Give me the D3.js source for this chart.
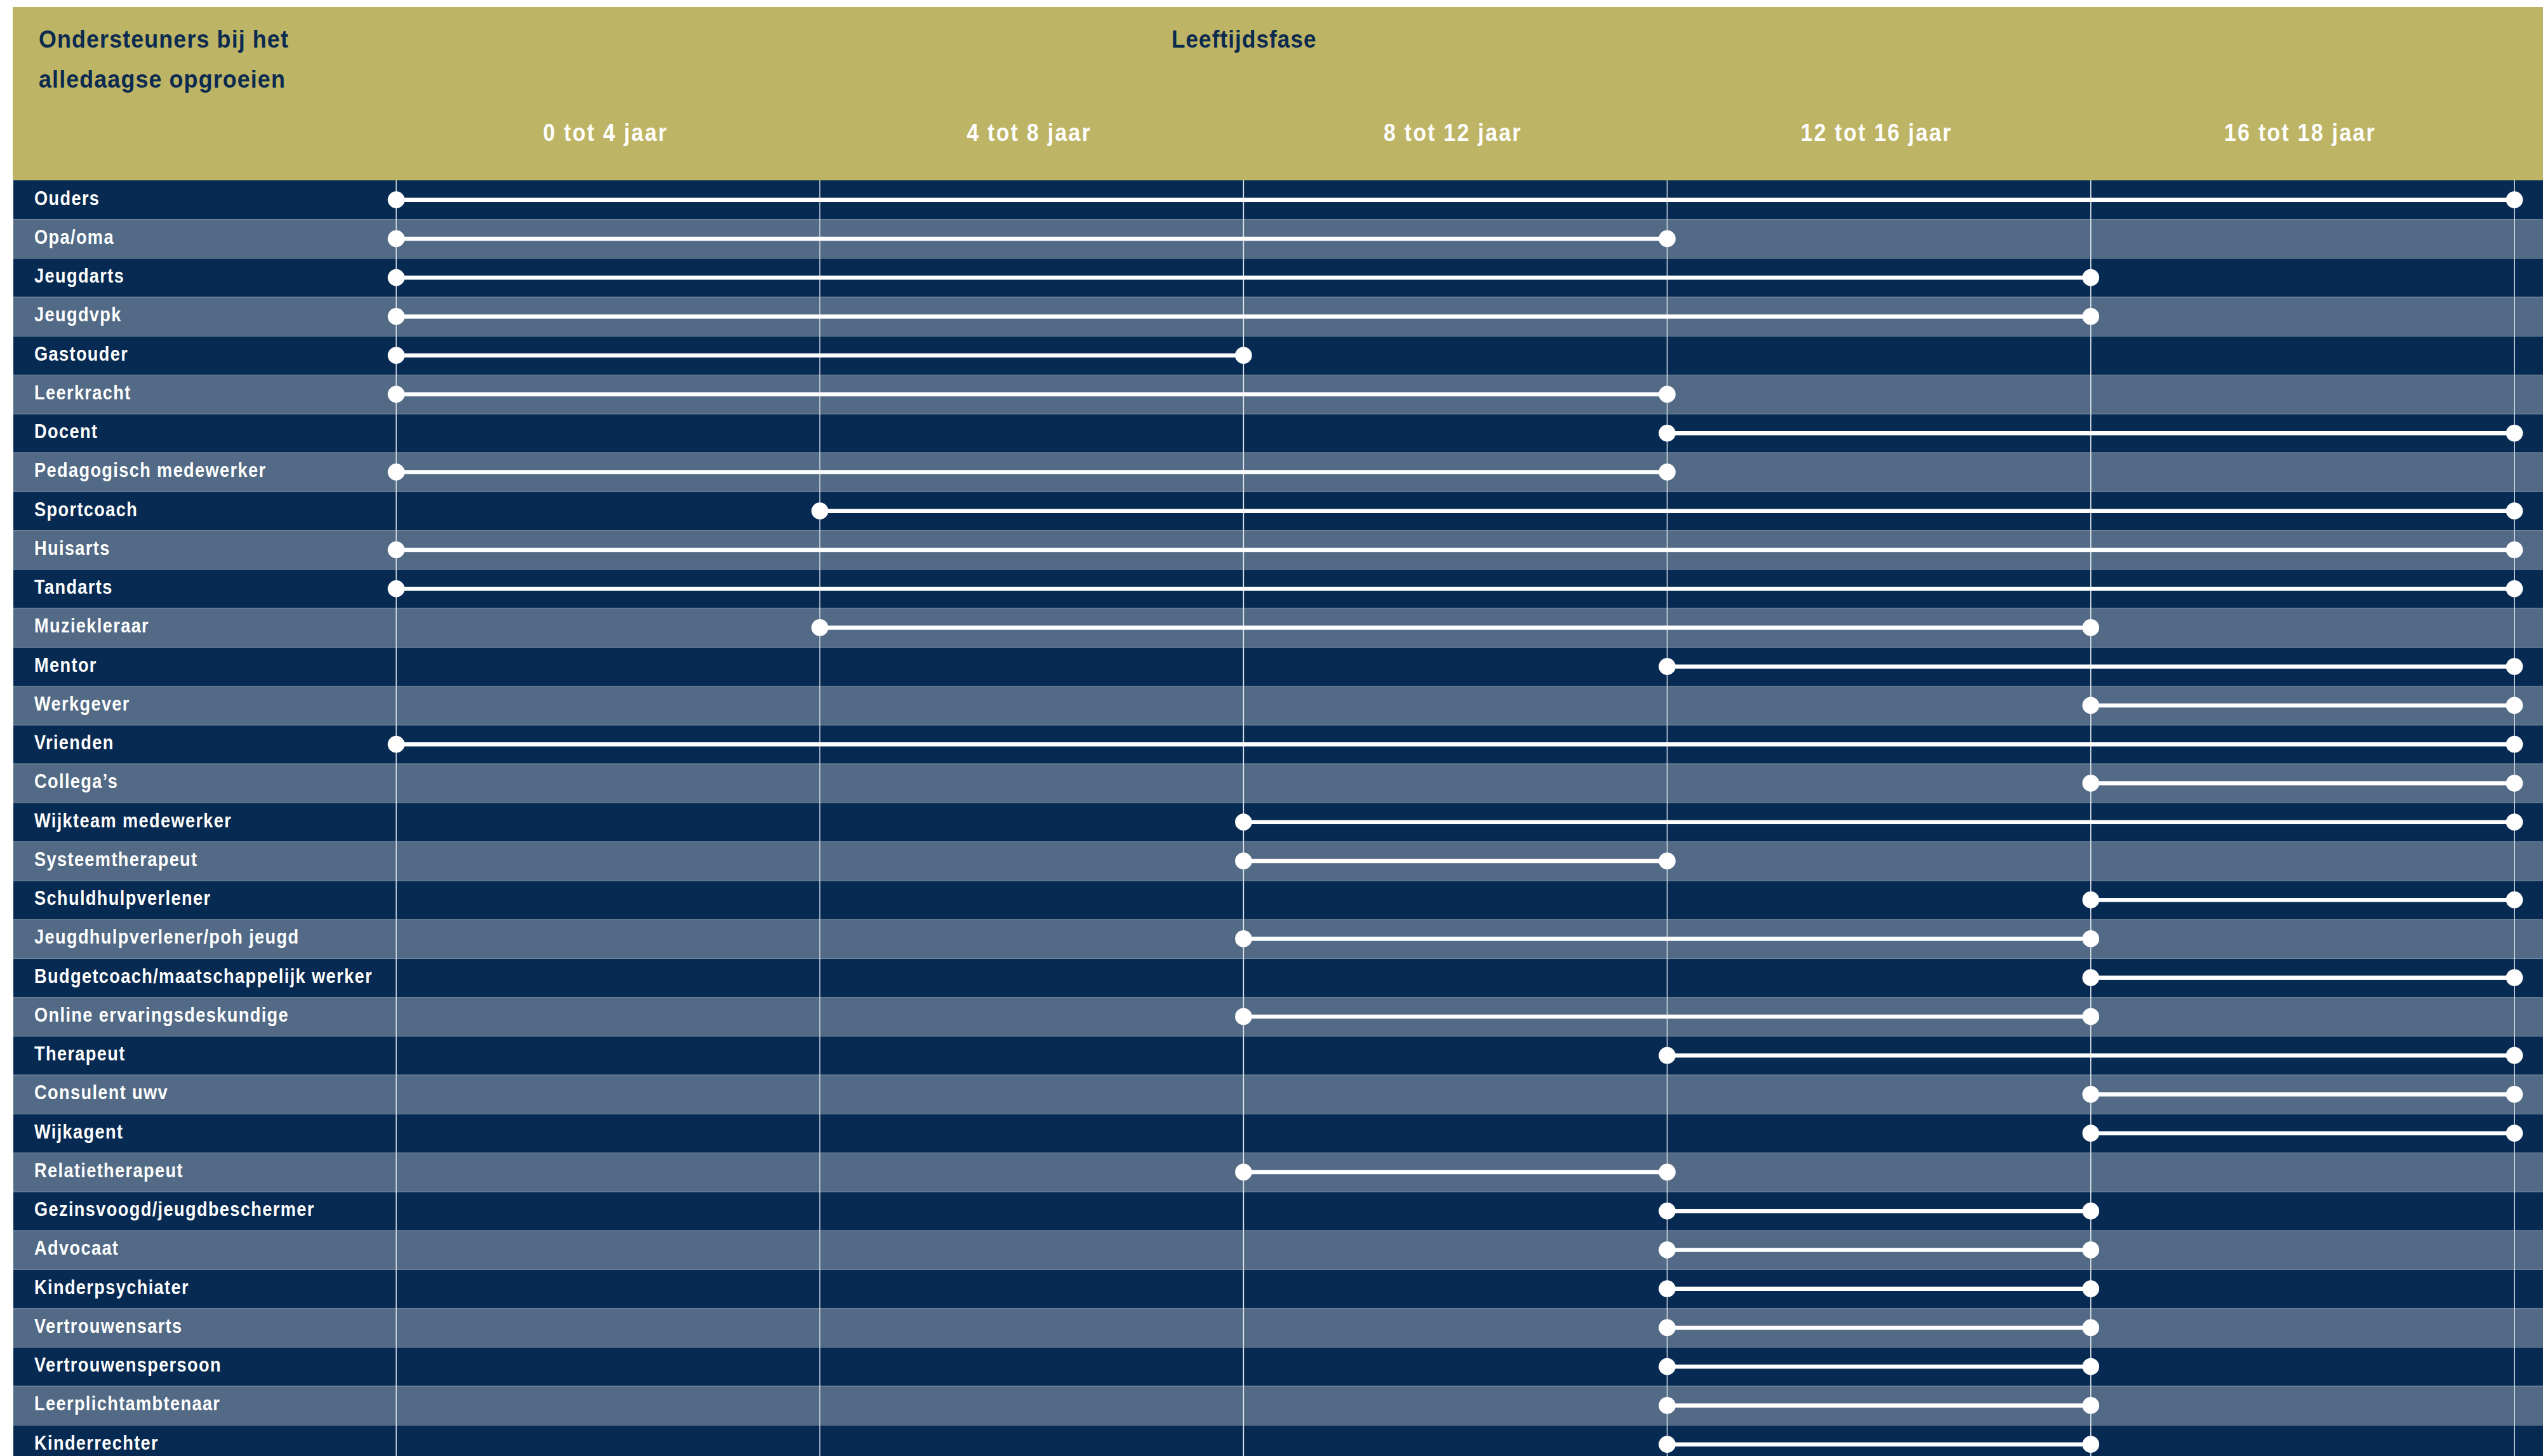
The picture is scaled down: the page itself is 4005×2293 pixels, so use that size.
<!DOCTYPE html>
<html>
<head>
<meta charset="utf-8">
<script src="https://cdn.jsdelivr.net/npm/d3@7"></script>
<style>
  html, body { margin: 0; padding: 0; background: #ffffff; }
  svg { display: block; }
  text { font-family: "Liberation Sans", Arial, sans-serif; font-weight: bold; }
</style>
</head>
<body>
<svg id="chart"></svg>
<script>
// Supporters in everyday growing up, with the age phases in which each one plays a role
const supporters = [
  "Ouders", "Opa/oma", "Jeugdarts", "Jeugdvpk", "Gastouder", "Leerkracht", "Docent",
  "Pedagogisch medewerker", "Sportcoach", "Huisarts", "Tandarts", "Muziekleraar", "Mentor",
  "Werkgever", "Vrienden", "Collega\u2019s", "Wijkteam medewerker", "Systeemtherapeut",
  "Schuldhulpverlener", "Jeugdhulpverlener/poh jeugd", "Budgetcoach/maatschappelijk werker",
  "Online ervaringsdeskundige", "Therapeut", "Consulent uwv", "Wijkagent", "Relatietherapeut",
  "Gezinsvoogd/jeugdbeschermer", "Advocaat", "Kinderpsychiater", "Vertrouwensarts",
  "Vertrouwenspersoon", "Leerplichtambtenaar", "Kinderrechter"
];
// Age (years) at which each supporter's span starts and ends
const startAge = [0, 0, 0, 0, 0, 0, 12, 0, 4, 0, 0, 4, 12, 16, 0, 16, 8, 8, 16, 8, 16, 8, 12, 16, 16, 8, 12, 12, 12, 12, 12, 12, 12];
const endAge   = [18, 12, 16, 16, 8, 12, 18, 12, 18, 18, 18, 16, 18, 18, 18, 18, 18, 12, 18, 16, 18, 16, 18, 18, 18, 12, 16, 16, 16, 16, 16, 16, 16];

// Phase boundaries and phase labels
const boundaries = [0, 4, 8, 12, 16, 18];
const phaseLabels = ["0 tot 4 jaar", "4 tot 8 jaar", "8 tot 12 jaar", "12 tot 16 jaar", "16 tot 18 jaar"];

const rowTitle = ["Ondersteuners bij het", "alledaagse opgroeien"];
const axisTitle = "Leeftijdsfase";

const W = 4005, H = 2293;
const headerTop = 11, headerBottom = 284, rowH = 61.25;

const svg = d3.select("#chart").attr("width", W).attr("height", H);

const x = d3.scalePoint().domain(boundaries).range([624, 3960]);
const y = d3.scaleBand().domain(supporters)
  .range([headerBottom, headerBottom + supporters.length * rowH]).padding(0);

// Condensed look: horizontally squeezed bold sans
const narrow = (tx, ty, sx) => `translate(${tx},${ty}) scale(${sx},1)`;

// Header band
svg.append("rect").attr("x", 20).attr("y", headerTop)
  .attr("width", W - 20).attr("height", headerBottom - headerTop).attr("fill", "#bdb465");

svg.append("g").selectAll("text").data(rowTitle).join("text")
  .attr("transform", (d, i) => narrow(61, 75 + i * 63, 0.92))
  .attr("fill", "#0a2a50").attr("font-size", 39).attr("letter-spacing", 1.2)
  .text(d => d);

svg.append("text").attr("transform", narrow(1845, 75, 0.9))
  .attr("fill", "#0a2a50").attr("font-size", 39).attr("letter-spacing", 1.2)
  .text(axisTitle);

svg.append("g").selectAll("text").data(phaseLabels).join("text")
  .attr("transform", (d, i) => narrow((x(boundaries[i]) + x(boundaries[i + 1])) / 2 - 4, 222, 0.87))
  .attr("text-anchor", "middle")
  .attr("fill", "#ffffff").attr("font-size", 39).attr("letter-spacing", 2.6)
  .text(d => d);

// Striped rows
const rows = svg.append("g");
rows.selectAll("rect").data(supporters).join("rect")
  .attr("x", 21).attr("y", d => y(d))
  .attr("width", W - 21).attr("height", y.bandwidth())
  .attr("fill", (d, i) => i % 2 === 0 ? "#062a52" : "#526a85");

rows.selectAll("line").data(supporters.slice(1)).join("line")
  .attr("x1", 21).attr("x2", W)
  .attr("y1", d => y(d) + 0.5).attr("y2", d => y(d) + 0.5)
  .attr("stroke", "#6f849c").attr("stroke-width", 1);

// Vertical phase boundaries
svg.append("g").selectAll("line").data(boundaries).join("line")
  .attr("x1", d => x(d)).attr("x2", d => x(d))
  .attr("y1", headerBottom).attr("y2", H)
  .attr("stroke", "#dfe5ec").attr("stroke-width", 1.6);

// Row labels
svg.append("g").selectAll("text").data(supporters).join("text")
  .attr("transform", d => narrow(54, y(d) + 38.5, 0.85))
  .attr("fill", "#ffffff").attr("font-size", 32).attr("letter-spacing", 1.6)
  .text(d => d);

// Spans: line with a dot at each end
const spans = supporters.map((name, i) => ({ name, start: startAge[i], end: endAge[i] }));
const marks = svg.append("g").selectAll("g").data(spans).join("g")
  .attr("transform", d => `translate(0,${y(d.name) + y.bandwidth() / 2})`);

marks.append("line")
  .attr("x1", d => x(d.start)).attr("x2", d => x(d.end))
  .attr("stroke", "#ffffff").attr("stroke-width", 6.5);

marks.selectAll("circle").data(d => [d.start, d.end]).join("circle")
  .attr("cx", d => x(d)).attr("cy", 0).attr("r", 13.3)
  .attr("fill", "#ffffff");
</script>
</body>
</html>
